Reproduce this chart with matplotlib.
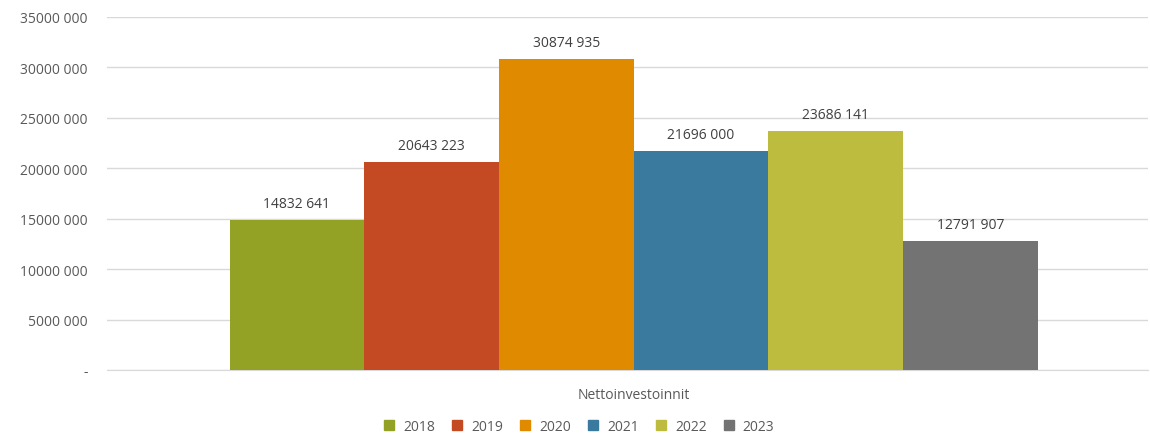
import numpy as np
import matplotlib.pyplot as plt
from matplotlib.ticker import FuncFormatter

plt.rcParams['font.family'] = ['Open Sans', 'DejaVu Sans']

# data
category = 'Nettoinvestoinnit'
years = ['2018', '2019', '2020', '2021', '2022', '2023']
values = [14832641, 20643223, 30874935, 21696000, 23686141, 12791907]
colors = ['#93A224', '#C44A23', '#E08A00', '#3A7A9E', '#BDBC3F', '#737373']
yticks = [0, 5000000, 10000000, 15000000, 20000000, 25000000, 30000000, 35000000]


def fmt(v, pos=None):
    v = int(round(v))
    if v == 0:
        return '-'
    return f"{v // 1000}" + ' ' + f"{v % 1000:03d}"


fig = plt.figure(figsize=(11.5, 4.39), dpi=100)
ax = fig.add_axes([0.093, 0.155, 0.905, 0.804])

bar_w = 0.1294
n = len(years)
offsets = (np.arange(n) - (n - 1) / 2) * bar_w

for i, (yr, v, c) in enumerate(zip(years, values, colors)):
    ax.bar(offsets[i], v, width=bar_w, color=c, label=yr, zorder=3)
    ax.text(offsets[i], v + 900000, fmt(v), ha='center', va='bottom',
            fontsize=10, color='#404040')

ax.set_xlim(-0.506, 0.494)
ax.set_ylim(0, 35000000)
ax.set_yticks(yticks)
ax.yaxis.set_major_formatter(FuncFormatter(fmt))
ax.set_xticks([0.0])
ax.set_xticklabels([category])
ax.tick_params(axis='x', length=0, pad=12, labelsize=10, labelcolor='#595959')
ax.tick_params(axis='y', length=0, pad=14, labelsize=10, labelcolor='#595959')

ax.grid(axis='y', color='#D9D9D9', linewidth=1, zorder=0)
for s in ['top', 'right', 'left']:
    ax.spines[s].set_visible(False)
ax.spines['bottom'].set_color('#D9D9D9')

handles = [plt.Line2D([], [], marker='s', linestyle='', markersize=7,
                      markerfacecolor=c, markeredgecolor=c) for c in colors]
fig.legend(handles, years, loc='lower center', ncol=6, frameon=False,
           bbox_to_anchor=(0.5, -0.02), fontsize=10, handletextpad=0.0,
           columnspacing=0.6, labelcolor='#595959')

fig.savefig('out.png', dpi=100, facecolor='white')
